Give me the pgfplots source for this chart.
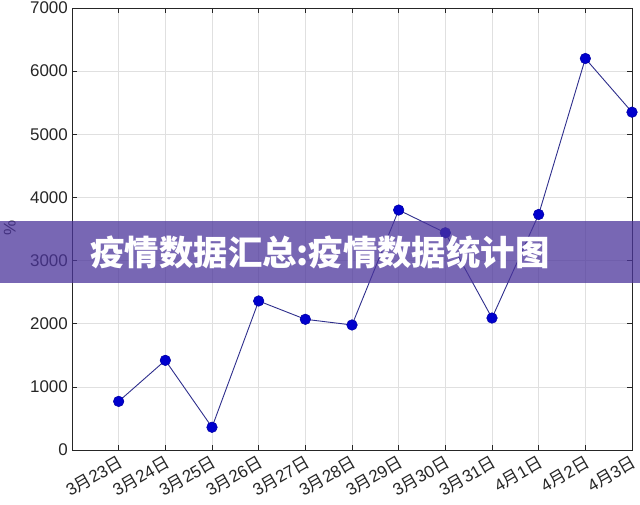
\documentclass[border=0pt]{standalone}
\usepackage{fontspec}
\setmainfont{Liberation Sans}
\newfontfamily\cjk{Noto Sans CJK SC}
\usepackage{pgfplots}
\pgfplotsset{compat=1.18}
\definecolor{axgray}{HTML}{262626}
\definecolor{gridgray}{HTML}{E0E0E0}
\definecolor{ptblue}{HTML}{0000CD}
\definecolor{lnblue}{HTML}{2E2E8C}
\definecolor{band}{HTML}{4B349B}
\newcommand{\md}[2]{#1{\cjk 月}#2{\cjk 日}}

\begin{document}
\begin{tikzpicture}[x=1bp,y=1bp]
\useasboundingbox (0,0) rectangle (640,505);
\begin{axis}[
  at={(72bp,55bp)}, anchor=south west,
  scale only axis, width=560bp, height=442bp,
  xmin=0, xmax=12, ymin=0, ymax=7000,
  xtick={1,...,12},
  xticklabels={\md{3}{23},\md{3}{24},\md{3}{25},\md{3}{26},\md{3}{27},\md{3}{28},
    \md{3}{29},\md{3}{30},\md{3}{31},\md{4}{1},\md{4}{2},\md{4}{3}},
  ytick={0,1000,...,7000},
  grid=major, major grid style={gridgray, line width=0.6bp},
  axis line style={axgray, line width=0.7bp},
  tick style={axgray, line width=0.7bp},
  tick align=inside, major tick length=5bp,
  tick label style={font=\fontsize{17}{20}\selectfont, text=axgray},
  /pgf/number format/assume math mode=true,
  /pgf/number format/1000 sep={},
  xticklabel style={rotate=30, anchor=north east, inner sep=3bp},
  yticklabel style={inner sep=4bp},
  ylabel={\%},
  ylabel style={at={(axis description cs:-0.111,0.502)}, anchor=center,
    font=\fontsize{17}{20}\selectfont, text=axgray},
  clip=false
]
\addplot[lnblue, line width=0.9bp, mark=*, mark size=5.3bp,
  mark options={fill=ptblue, draw=ptblue!80!black, line width=0.5bp}] coordinates {
  (1, 770)
  (2, 1420)
  (3, 360)
  (4, 2360)
  (5, 2070)
  (6, 1980)
  (7, 3800)
  (8, 3440)
  (9, 2090)
  (10, 3730)
  (11, 6200)
  (12, 5350)
};
\end{axis}
\fill[band, opacity=0.75] (0,222) rectangle (640,284);
\node[text=white, inner sep=0pt, font=\cjk\bfseries\fontsize{34.5}{38}\selectfont] at (320,253) {疫情数据汇总:疫情数据统计图};
\end{tikzpicture}
\end{document}
